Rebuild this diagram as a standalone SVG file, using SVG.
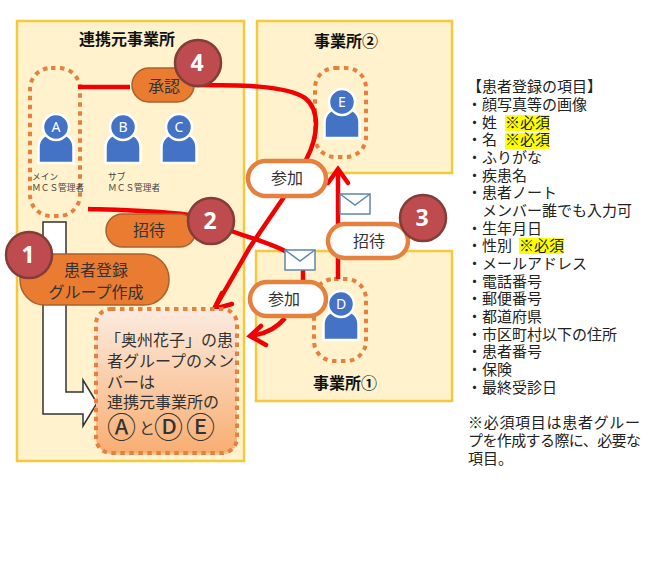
<svg xmlns="http://www.w3.org/2000/svg" width="650" height="587" viewBox="0 0 650 587">
<style>
text{font-family:"Noto Sans CJK JP","Noto Sans",sans-serif;fill:#333}
.box{fill:#FFF2CC;stroke:#F4C93F;stroke-width:2.5}
.dot{fill:none;stroke:#E5813F;stroke-width:4;stroke-dasharray:4.5 4.5}
.red{fill:none;stroke:#F00000;stroke-width:4.5}
.title{font-size:16px;font-weight:700;fill:#111;text-anchor:middle}
.pill{fill:#E97C30;stroke:#A9602C;stroke-width:1.5}
.wpill{fill:#fff;stroke:#E5813F;stroke-width:4.5}
.lbl{font-size:16px;text-anchor:middle}
.num{fill:#BE4B4E;stroke:#843C39;stroke-width:2.5}
.numt{font-family:"Open Sans","Noto Sans",sans-serif;font-size:23px;font-weight:700;fill:#fff;text-anchor:middle}
.env{fill:#fff;stroke:#5F87AE;stroke-width:1.5}
.body{fill:#4472C4;stroke:#fff;stroke-width:2.5}
.pt{font-family:"Noto Sans",sans-serif;font-size:14px;fill:#fff;text-anchor:middle}
.sm{font-size:8.7px;fill:#444}
.list{font-size:15px;fill:#222}
.hl{fill:#FFFF00}
</style>
<defs>
<linearGradient id="g" x1="0" y1="0" x2="0" y2="1"><stop offset="0" stop-color="#FCEBE0"/><stop offset="1" stop-color="#F8AE72"/></linearGradient>
<g id="person"><path class="body" d="M-17.500 36V20C-17.500 11-10 7-6 6H6C10 7 17.500 11 17.500 20V36Z"/><circle class="body" r="13"/></g>
<g id="mail"><rect class="env" width="30" height="20"/><path d="M0 0L15 11L30 0" fill="none" stroke="#5F87AE" stroke-width="1.5"/></g>
</defs>
<g id="office-main"><rect class="box" x="17" y="21" width="227" height="440"/><text class="title" x="127" y="45">連携元事業所</text></g>
<g id="office-2"><rect class="box" x="257" y="21" width="195" height="152"/><text class="title" x="346" y="47">事業所②</text></g>
<g id="office-1"><rect class="box" x="256" y="251" width="196" height="150"/><text class="title" x="345" y="389">事業所①</text></g>

<g id="member-group-a"><rect class="dot" x="30" y="68" width="50" height="148" rx="21"/></g>
<g id="member-group-e"><rect class="dot" x="315" y="68" width="51" height="89" rx="20"/></g>
<g id="member-group-d"><rect class="dot" x="314" y="279" width="52" height="82" rx="20"/></g>

<g id="person-a"><use href="#person" x="56" y="127"/><text class="pt" x="56" y="132">A</text><text class="sm" x="32" y="180">メイン</text><text class="sm" x="32" y="191">ＭＣＳ管理者</text></g>
<g id="person-b"><use href="#person" x="123" y="127"/><text class="pt" x="123" y="132">B</text><text class="sm" x="108" y="180">サブ</text><text class="sm" x="108" y="191">ＭＣＳ管理者</text></g>
<g id="person-c"><use href="#person" x="179" y="127"/><text class="pt" x="179" y="132">C</text></g>
<g id="person-e"><use href="#person" x="342" y="102"/><text class="pt" x="342" y="107">E</text></g>
<g id="person-d"><use href="#person" x="341" y="304"/><text class="pt" x="341" y="309">D</text></g>

<g id="connectors">
<path class="red" d="M78 87H130M190 85C240 85 285 85 305 98C320 110 319 135 306 160M284 197L250 247L216 306"/>
<path class="red" d="M222 293L214 309L232 304" stroke-linecap="round"/>
<path class="red" d="M88 209C120 210 170 211 195 216M225 229C245 236 270 243 287 252M303 270V285M285 318C277 328 265 334 251 336"/>
<path class="red" d="M266 345L250 336L261 326" stroke-linecap="round"/>
<path class="red" d="M338 279V170"/>
<path class="red" d="M328 183L338 169L348 183" stroke-linecap="round"/>
</g>

<g id="register-arrow"><path d="M43 222H66V392H83V380L97 403L83 426V414H43Z" fill="#fff" stroke="#333" stroke-width="1.5"/></g>

<g id="mail-1"><use href="#mail" x="285" y="250"/></g>
<g id="mail-2"><use href="#mail" x="340" y="194"/></g>

<g id="pill-approve"><rect class="pill" x="132" y="68" width="62" height="34" rx="17"/><text class="lbl" x="164" y="92">承認</text></g>
<g id="pill-invite"><rect class="pill" x="106" y="214" width="90" height="33" rx="16.5"/><text class="lbl" x="149" y="236">招待</text></g>
<g id="pill-register"><rect class="pill" x="20" y="254" width="149" height="51" rx="25"/><text class="lbl" x="96" y="276">患者登録</text><text class="lbl" x="96" y="298">グループ作成</text></g>
<g id="pill-join-top"><rect class="wpill" x="248" y="161" width="78" height="35" rx="17.5"/><text class="lbl" x="287" y="184">参加</text></g>
<g id="pill-join-bottom"><rect class="wpill" x="250" y="282" width="76" height="34" rx="17"/><text class="lbl" x="284" y="305">参加</text></g>
<g id="pill-invite-2"><rect class="wpill" x="328" y="224" width="80" height="34" rx="17"/><text class="lbl" x="369" y="247">招待</text></g>

<g id="num-1"><circle class="num" cx="29" cy="255" r="23"/><text class="numt" x="28" y="263">1</text></g>
<g id="num-2"><circle class="num" cx="211" cy="221" r="23"/><text class="numt" x="210" y="229">2</text></g>
<g id="num-3"><circle class="num" cx="423" cy="218" r="23"/><text class="numt" x="422" y="226">3</text></g>
<g id="num-4"><circle class="num" cx="198" cy="63" r="23"/><text class="numt" x="197" y="71">4</text></g>

<g id="patient-group">
<rect x="98" y="312" width="139" height="143" rx="15" fill="#D9A878" opacity=".55"/>
<rect class="dot" x="96" y="309" width="141" height="144" rx="15" style="fill:url(#g)"/>
<text x="105" y="346" font-size="16" textLength="128">「奥州花子」の患</text>
<text x="107" y="367" font-size="16">者グループのメン</text>
<text x="107" y="388" font-size="16">バーは</text>
<text x="107" y="408" font-size="16">連携元事業所の</text>
<text x="107" y="438" font-size="29">Ⓐ</text><text x="139" y="434" font-size="16">と</text><text x="154" y="438" font-size="29">Ⓓ</text><text x="186" y="438" font-size="29">Ⓔ</text>
</g>

<g id="items">
<rect class="hl" x="505" y="115" width="44" height="16"/>
<rect class="hl" x="505" y="133" width="44" height="16"/>
<rect class="hl" x="519" y="238" width="45" height="16"/>
<text class="list" x="467" y="92">【患者登録の項目】</text>
<text class="list" x="467" y="110">・顔写真等の画像</text>
<text class="list" x="467" y="128">・姓</text><text class="list" x="505" y="128">※必須</text>
<text class="list" x="467" y="145">・名</text><text class="list" x="505" y="145">※必須</text>
<text class="list" x="467" y="163">・ふりがな</text>
<text class="list" x="467" y="181">・疾患名</text>
<text class="list" x="467" y="198">・患者ノート</text>
<text class="list" x="482" y="216">メンバー誰でも入力可</text>
<text class="list" x="467" y="234">・生年月日</text>
<text class="list" x="467" y="251">・性別</text><text class="list" x="519" y="251">※必須</text>
<text class="list" x="467" y="269">・メールアドレス</text>
<text class="list" x="467" y="287">・電話番号</text>
<text class="list" x="467" y="304">・郵便番号</text>
<text class="list" x="467" y="322">・都道府県</text>
<text class="list" x="467" y="340">・市区町村以下の住所</text>
<text class="list" x="467" y="357">・患者番号</text>
<text class="list" x="467" y="375">・保険</text>
<text class="list" x="467" y="393">・最終受診日</text>
<text class="list" x="468" y="428" textLength="172">※必須項目は患者グルー</text>
<text class="list" x="468" y="446" textLength="173">プを作成する際に、必要な</text>
<text class="list" x="468" y="464">項目。</text>
</g>
</svg>
